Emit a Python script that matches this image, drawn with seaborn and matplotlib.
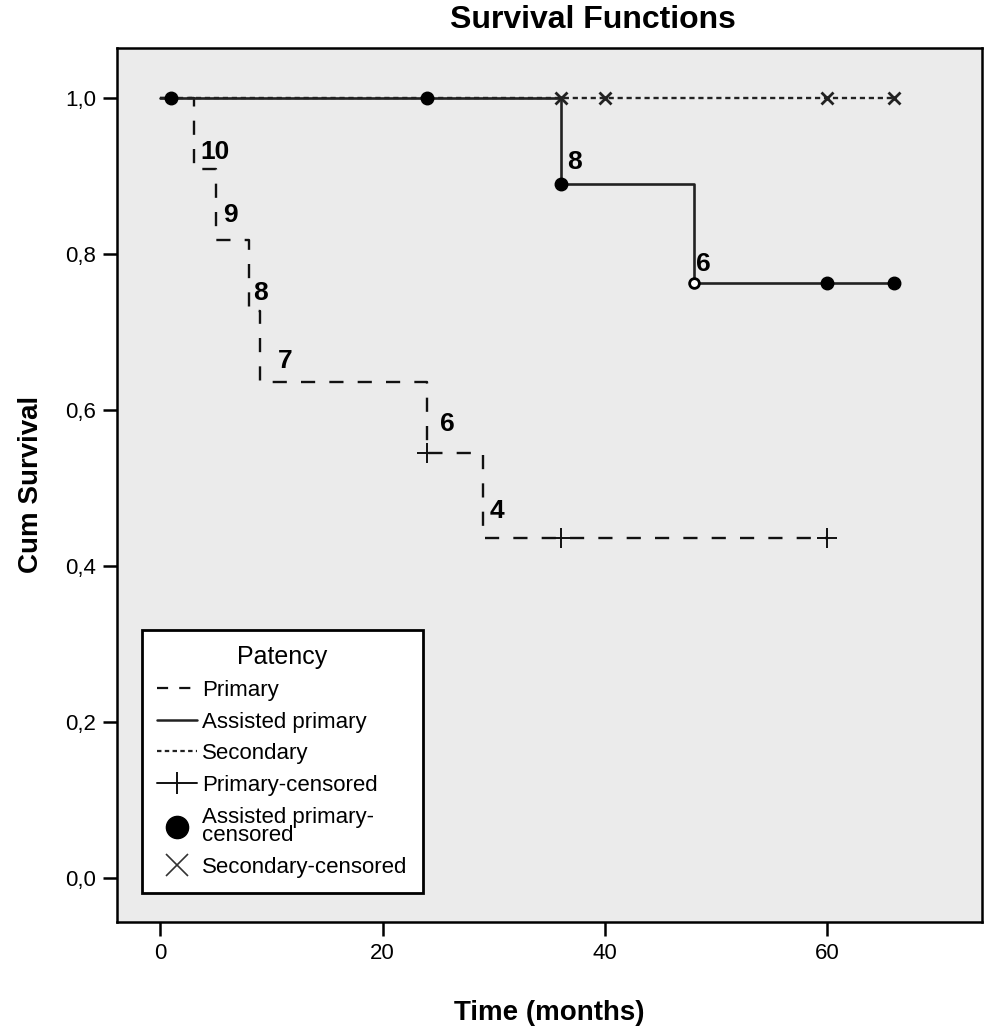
import numpy as np
import pandas as pd
import matplotlib
matplotlib.use("Agg")
import matplotlib.pyplot as plt
from matplotlib.lines import Line2D
import seaborn as sns

# Kaplan-Meier step values
primary_t = [0, 3, 5, 8, 9, 24, 29, 60]
primary_s = [1.0, 0.909, 0.818, 0.727, 0.636, 0.545, 0.436, 0.436]
primary_cens_t = [24, 36, 60]
primary_cens_s = [0.545, 0.436, 0.436]

assisted_t = [0, 36, 48, 66]
assisted_s = [1.0, 0.889, 0.762, 0.762]
assisted_cens_t = [1, 24, 36, 60, 66]
assisted_cens_s = [1.0, 1.0, 0.889, 0.762, 0.762]
assisted_open_t = [48]
assisted_open_s = [0.762]

secondary_t = [0, 66]
secondary_s = [1.0, 1.0]
secondary_cens_t = [36, 40, 60, 66]
secondary_cens_s = [1.0, 1.0, 1.0, 1.0]

# numbers at risk written next to the drops
risk_labels = ["10", "9", "8", "7", "6", "4", "8", "6"]
risk_t = [3.6, 5.7, 8.4, 10.6, 25.2, 29.6, 36.6, 48.2]
risk_s = [0.93, 0.85, 0.75, 0.663, 0.582, 0.47, 0.918, 0.787]

yticks = [0.0, 0.2, 0.4, 0.6, 0.8, 1.0]
ytick_labels = ["0,0", "0,2", "0,4", "0,6", "0,8", "1,0"]
xticks = [0, 20, 40, 60]

sns.set_theme(style="white")
plt.rcParams["font.family"] = ["Liberation Sans", "DejaVu Sans"]
plt.rcParams["text.color"] = "black"
plt.rcParams["axes.labelcolor"] = "black"

fig = plt.figure(figsize=(9.9, 10.35), dpi=100)
ax = fig.add_axes([0.118, 0.109, 0.874, 0.845])
ax.set_facecolor("#ebebeb")

prim = pd.DataFrame({"t": primary_t, "s": primary_s})
assi = pd.DataFrame({"t": assisted_t, "s": assisted_s})
seco = pd.DataFrame({"t": secondary_t, "s": secondary_s})

sns.lineplot(data=seco, x="t", y="s", drawstyle="steps-post", estimator=None, sort=False,
             color="#222222", lw=1.7, linestyle=(0, (2.2, 1.6)), ax=ax)
sns.lineplot(data=prim, x="t", y="s", drawstyle="steps-post", estimator=None, sort=False,
             color="#111111", lw=1.7, linestyle=(0, (6, 6)), ax=ax)
sns.lineplot(data=assi, x="t", y="s", drawstyle="steps-post", estimator=None, sort=False,
             color="#222222", lw=1.9, ax=ax)

ax.plot(secondary_cens_t, secondary_cens_s, ls="none", marker="x", ms=9, mew=2, color="#222222")
ax.plot(primary_cens_t, primary_cens_s, ls="none", marker="+", ms=14, mew=1.4, color="#111111")
ax.plot(assisted_cens_t, assisted_cens_s, ls="none", marker="o", ms=9, color="black")
ax.plot(assisted_open_t, assisted_open_s, ls="none", marker="o", ms=7, mfc="white", mec="black", mew=2)

for lab, t, s in zip(risk_labels, risk_t, risk_s):
    ax.text(t, s, lab, ha="left", va="center", fontsize=19, fontweight="bold", color="black")

ax.set_xlim(-3.9, 73.9)
ax.set_ylim(-0.056, 1.064)
ax.set_xticks(xticks)
ax.set_xticklabels([str(v) for v in xticks], fontsize=16)
ax.set_yticks(yticks)
ax.set_yticklabels(ytick_labels, fontsize=16)
ax.tick_params(axis="both", bottom=True, left=True, direction="out", length=10, width=1.8,
               color="black", labelcolor="black", pad=5)
for sp in ax.spines.values():
    sp.set_color("black")
    sp.set_linewidth(1.8)

ax.set_xlabel("Time (months)", fontsize=20, fontweight="bold", labelpad=26)
ax.set_ylabel("Cum Survival", fontsize=20, fontweight="bold", labelpad=15)
fig.text(0.599, 0.981, "Survival Functions", ha="center", va="center", fontsize=23,
         fontweight="bold", color="black")

handles = [
    Line2D([], [], color="#111111", lw=1.6, linestyle=(0, (5, 5))),
    Line2D([], [], color="#222222", lw=1.8),
    Line2D([], [], color="#222222", lw=1.6, linestyle=(0, (2, 1.5))),
    Line2D([], [], color="#111111", lw=1.4, marker="|", ms=16, mew=1.4),
    Line2D([], [], ls="none", marker="o", ms=16, color="black"),
    Line2D([], [], ls="none", marker="x", ms=16, mew=1.2, color="#333333"),
]
labels = ["Primary", "Assisted primary", "Secondary", "Primary-censored",
          "Assisted primary-\ncensored", "Secondary-censored"]
leg = ax.legend(handles, labels, title="Patency", loc="lower left",
                bbox_to_anchor=(0.029, 0.033), borderaxespad=0, frameon=True,
                fancybox=False, framealpha=1, facecolor="white", edgecolor="black",
                fontsize=16, title_fontsize=18, handlelength=1.8, handletextpad=0.2,
                labelspacing=0.48, borderpad=0.7)
leg.get_frame().set_linewidth(2)
for txt in leg.get_texts():
    txt.set_linespacing(0.85)

fig.savefig("out.png", dpi=100)
